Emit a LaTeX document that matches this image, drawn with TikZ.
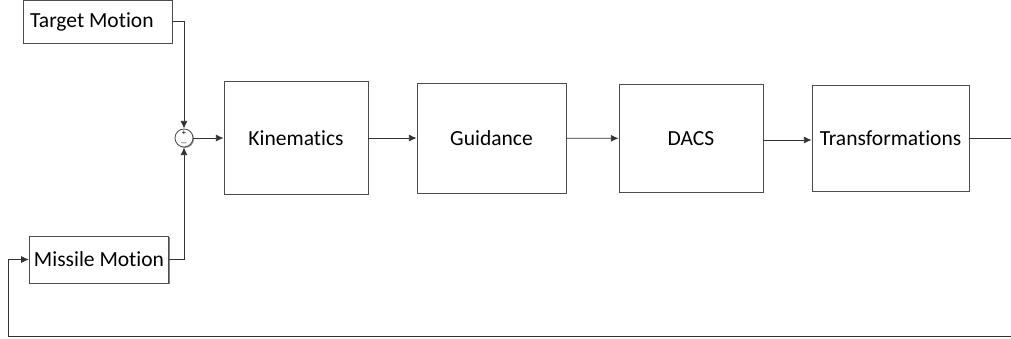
\documentclass[tikz,border=0pt]{standalone}
\usepackage{fontspec}
\setmainfont[Ligatures=NoCommon]{Carlito}
\usetikzlibrary{arrows.meta,shadows}
\tikzset{
  blockbox/.style={draw=black!70, line width=0.6pt, fill=white, rectangle, font=\fontsize{15.3}{17}\selectfont},
  inbox/.style={blockbox, drop shadow={shadow xshift=1pt, shadow yshift=-1pt, opacity=0.8, fill=black!60}},
  sumnode/.style={draw=black!70, line width=0.6pt, fill=white, circle, minimum size=0.45cm, inner sep=0pt,
    drop shadow={shadow xshift=0.7pt, shadow yshift=-0.7pt, opacity=0.7, fill=black!60}},
  wire/.style={draw=black!80, line width=0.6pt}
}
\begin{document}
\begin{tikzpicture}[x=0.025cm, y=-0.025cm, >={Latex[length=5.5pt,width=5pt]}]
\useasboundingbox (0,0) rectangle (1011,338);
\node[inbox, minimum width=3.725cm, minimum height=1.075cm] (target) at (97.5,21.5) {\hspace*{-8pt}Target Motion};
\node[inbox, minimum width=3.35cm, minimum height=1.175cm] (missile) at (99,259.5) {Missile Motion};
\node[sumnode] (sum) at (184,138) {};
\node[font=\fontsize{6}{6}\selectfont, inner sep=0pt] (plus) at (184,133) {+};
\node[font=\fontsize{6}{6}\selectfont, inner sep=0pt] (minus) at (184,143) {$-$};
\node[blockbox, minimum width=3.6cm, minimum height=2.825cm] (kin) at (296,138) {Kinematics};
\node[blockbox, minimum width=3.725cm, minimum height=2.75cm] (guid) at (491.5,138) {Guidance};
\node[blockbox, minimum width=3.6cm, minimum height=2.7cm] (dacs) at (691,138.5) {DACS};
\node[blockbox, minimum width=3.925cm, minimum height=2.65cm] (trans) at (890.5,138) {Transformations};
\coordinate (out) at (1011,138);
\coordinate (fbend) at (1011,336);
\coordinate (fbcorner) at (8,336);
\draw[wire, ->] (target.east) -| (sum.north);
\draw[wire, ->] (missile.east) -| (sum.south);
\draw[wire, ->] (sum) -- (kin);
\draw[wire, ->] (kin) -- (guid);
\draw[wire, ->] (guid) -- (dacs);
\draw[wire, ->] (dacs.east |- 0,140) -- (trans.west |- 0,140);
\draw[wire] (trans.east) -- (out);
\draw[wire, ->] (fbend) -- (fbcorner) |- (missile.west);
\end{tikzpicture}
\end{document}
